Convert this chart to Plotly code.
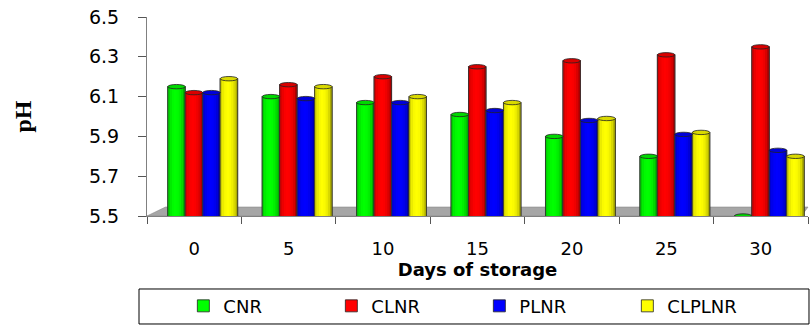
import math
import plotly.graph_objects as go

# Storage days and pH readings per treatment
days = ["0", "5", "10", "15", "20", "25", "30"]
cnr = [6.15, 6.10, 6.07, 6.01, 5.90, 5.80, 5.50]
clnr = [6.12, 6.16, 6.20, 6.25, 6.28, 6.31, 6.35]
plnr = [6.12, 6.09, 6.07, 6.03, 5.98, 5.91, 5.83]
clplnr = [6.19, 6.15, 6.10, 6.07, 5.99, 5.92, 5.80]

series = [
    ("CNR", cnr, (0, 255, 0)),
    ("CLNR", clnr, (255, 0, 0)),
    ("PLNR", plnr, (0, 0, 255)),
    ("CLPLNR", clplnr, (255, 255, 0)),
]

Y_MIN, Y_MAX = 5.5, 6.5
BAR_W = 0.185          # width of one cylinder in category units
GROUP_SHIFT = 0.09     # perspective shift of each group to the right
N_STRIPS = 8           # vertical strips used to shade each cylinder
CAP_H = 0.022          # height of the elliptical cap in data units
SANS = "DejaVu Sans, Arial, sans-serif"


def rgb(c, f=1.0):
    return "rgb({},{},{})".format(*(max(0, min(255, int(round(v * f)))) for v in c))


def shade(t):
    # brightness across the cylinder: darker at both edges
    return 0.62 + 0.38 * math.sin(math.pi * min(1.0, max(0.0, t + 0.05))) ** 0.6


fig = go.Figure()
shapes = []

for i, (name, vals, col) in enumerate(series):
    off = -2 * BAR_W + GROUP_SHIFT + i * BAR_W
    # base cylinder body (also provides the legend swatch)
    fig.add_trace(go.Bar(
        x=days, y=vals, name=name, width=BAR_W, offset=off,
        marker=dict(color=rgb(col), line=dict(color="#222", width=0.8)),
        showlegend=True,
    ))
    # shading strips
    sw = BAR_W / N_STRIPS
    for k in range(N_STRIPS):
        t = (k + 0.5) / N_STRIPS
        fig.add_trace(go.Bar(
            x=days, y=vals, width=sw, offset=off + k * sw,
            marker=dict(color=rgb(col, shade(t)), line=dict(width=0)),
            showlegend=False, hoverinfo="skip",
        ))
    # outline on top of the strips
    fig.add_trace(go.Bar(
        x=days, y=vals, width=BAR_W, offset=off,
        marker=dict(color="rgba(0,0,0,0)", line=dict(color="#333", width=0.8)),
        showlegend=False, hoverinfo="skip",
    ))
    # elliptical caps
    for j, v in enumerate(vals):
        x0 = j + off
        shapes.append(dict(
            type="circle", xref="x", yref="y",
            x0=x0, x1=x0 + BAR_W, y0=v - CAP_H / 2, y1=v + CAP_H / 2,
            fillcolor=rgb(col, 0.85), line=dict(color="#222", width=0.8),
            layer="above",
        ))

# grey floor of the plot box
shapes.insert(0, dict(
    type="path", xref="x domain", yref="y domain",
    path="M 0 0 L 0.028 0.045 L 1.0 0.045 L 0.99 0 Z",
    fillcolor="#a6a6a6", line=dict(color="#8a8a8a", width=0.6), layer="below",
))
# border around the legend
shapes.append(dict(
    type="rect", xref="paper", yref="paper",
    x0=-0.0121, x1=1.0015, y0=-0.5427, y1=-0.3668,
    line=dict(color="#000", width=1), fillcolor="rgba(0,0,0,0)",
))

fig.update_layout(
    width=812, height=325,
    margin=dict(l=147, r=4, t=17, b=109, autoexpand=False),
    paper_bgcolor="white", plot_bgcolor="white",
    barmode="overlay",
    font=dict(family=SANS, color="#000"),
    shapes=shapes,
    showlegend=True,
    legend=dict(
        orientation="h", x=0.055, xanchor="left", y=-0.36, yanchor="top",
        font=dict(size=18), entrywidth=103, borderwidth=0,
        bgcolor="rgba(0,0,0,0)",
    ),
    xaxis=dict(
        type="category", range=[-0.5, 6.5], automargin=False,
        showline=True, linecolor="#808080", linewidth=1,
        ticks="outside", tickson="boundaries", ticklen=7, tickcolor="#555",
        tickfont=dict(size=18), ticklabelstandoff=16,
        showgrid=False, zeroline=False,
        title=dict(text="<b>Days of storage</b>", font=dict(size=18), standoff=1),
    ),
    yaxis=dict(
        range=[Y_MIN, Y_MAX], automargin=False,
        tickvals=[5.5, 5.7, 5.9, 6.1, 6.3, 6.5],
        ticktext=["5.5", "5.7", "5.9", "6.1", "6.3", "6.5"],
        showline=True, linecolor="#808080", linewidth=1,
        ticks="outside", ticklen=8, tickcolor="#555",
        tickfont=dict(size=19), ticklabelstandoff=15,
        showgrid=False, zeroline=False,
        title=dict(text="<b>pH</b>", font=dict(size=24, family="Times New Roman, Liberation Serif, serif"),
                   standoff=50),
    ),
)

fig.write_html("out.html")
